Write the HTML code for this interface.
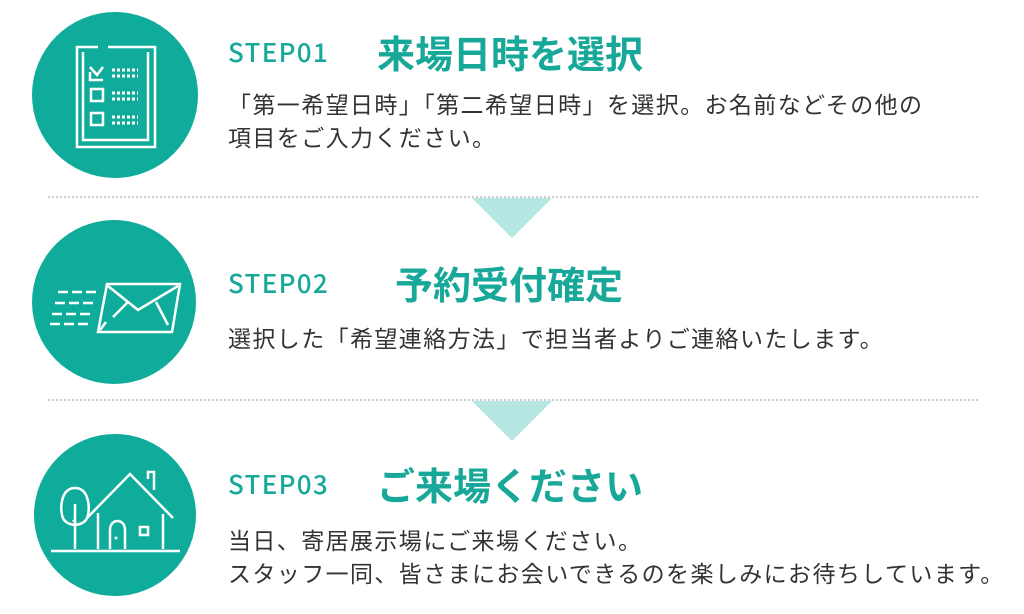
<!DOCTYPE html>
<html><head><meta charset="utf-8"><style>
body{margin:0;width:1024px;height:614px;background:#fff;position:relative;overflow:hidden;font-family:"Liberation Sans","Noto Sans CJK JP",sans-serif}
.t{position:absolute;white-space:nowrap}
.step{color:#17a899;font-size:26px;letter-spacing:1.3px;line-height:30px;font-weight:500;font-family:"Noto Sans CJK JP","Liberation Sans",sans-serif}
.ttl{color:#17a899;font-size:38px;font-weight:bold;line-height:44px;font-family:"Noto Sans CJK JP",sans-serif}
.body{color:#333;font-size:23px;line-height:33px;letter-spacing:1.4px;font-family:"Noto Sans CJK JP",sans-serif}
</style></head><body>
<svg width="1024" height="614" style="position:absolute;left:0;top:0">
<g stroke="#999" stroke-width="1" stroke-dasharray="2,2"><line x1="48" y1="197" x2="980" y2="197"/><line x1="48" y1="400" x2="980" y2="400"/></g>
<polygon points="472,198 552,198 512,238" fill="#b5e6e1"/>
<polygon points="472,401 552,401 512,441" fill="#b5e6e1"/>
<circle cx="115" cy="95" r="83" fill="#10ac9b"/>
<circle cx="114" cy="302" r="82" fill="#10ac9b"/>
<circle cx="115" cy="515" r="81" fill="#10ac9b"/>
<g stroke="#fff" stroke-width="2.5" fill="none">
<path d="M98,47 H77 V147 H155 V47 H108"/>
<path d="M83,52 V140 H148 V52"/>
<path d="M90,67 L97,75 L103,67 M90,72 V80 H103"/>
<rect x="91" y="89" width="12" height="12"/><rect x="91" y="113" width="12" height="12"/>
</g>
<g stroke="#fff" stroke-width="3" stroke-dasharray="3,2"><line x1="112" y1="70" x2="138" y2="70"/><line x1="112" y1="76" x2="138" y2="76"/><line x1="112" y1="93" x2="138" y2="93"/><line x1="112" y1="99" x2="138" y2="99"/><line x1="112" y1="117" x2="138" y2="117"/><line x1="112" y1="123" x2="138" y2="123"/></g>
<g stroke="#fff" stroke-width="2.5" fill="none">
<polygon points="107,284 180,284 172,332 98,332"/>
<path d="M108,286 L138,310 L178,286 M113,317 L128,302 M156,302 L168,325 M100,330 L106,322"/>
</g>
<g stroke="#fff" stroke-width="2.5" stroke-dasharray="10,4"><line x1="58" y1="292" x2="98" y2="292"/><line x1="55" y1="303" x2="96" y2="303"/><line x1="52" y1="314" x2="94" y2="314"/><line x1="50" y1="324" x2="92" y2="324"/></g>
<g stroke="#fff" stroke-width="2.5" fill="none">
<line x1="51" y1="551" x2="180" y2="551"/>
<path d="M75,549 V504 M73,520 L76,523"/>
<path d="M75,488 C62,488 60,505 62,515 C64,528 86,528 88,515 C90,505 88,488 75,488 Z"/>
<path d="M87,518 L130,474 L173,518 M98,513 V549 M163,514 V549 M148,479 V472 H154 V490"/>
<path d="M110,549 V530 C110,518 125,518 125,530 V549"/>
<rect x="140" y="527" width="8" height="8"/>
</g>
<circle cx="116" cy="538" r="1.5" fill="#fff"/>
</svg>
<div class="t step" style="left:228px;top:37px">STEP01</div>
<div class="t ttl" style="left:377px;top:30px">来場日時を選択</div>
<div class="t body" style="left:228px;top:87px">「第一希望日時」「第二希望日時」を選択。お名前などその他の<br>項目をご入力ください。</div>
<div class="t step" style="left:228px;top:268px">STEP02</div>
<div class="t ttl" style="left:395px;top:261px">予約受付確定</div>
<div class="t body" style="left:228px;top:321px">選択した「希望連絡方法」で担当者よりご連絡いたします。</div>
<div class="t step" style="left:228px;top:469px">STEP03</div>
<div class="t ttl" style="left:377px;top:462px">ご来場ください</div>
<div class="t body" style="left:228px;top:523px">当日、寄居展示場にご来場ください。<br>スタッフ一同、皆さまにお会いできるのを楽しみにお待ちしています。</div>
</body></html>
